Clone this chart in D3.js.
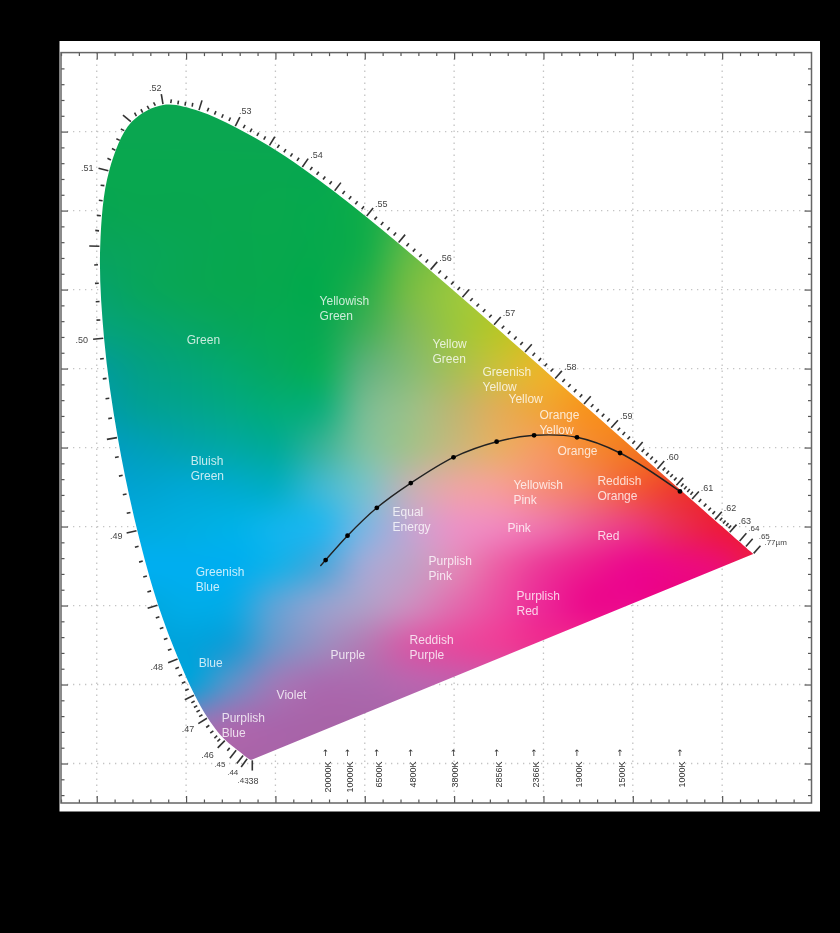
<!DOCTYPE html>
<html>
<head>
<meta charset="utf-8">
<script src="https://cdn.jsdelivr.net/npm/d3@7"></script>
<style>
    html, body { margin: 0; background: #000; }
    svg { display: block; filter: blur(0.7px); }
    text { font-family: "Liberation Sans", Arial, sans-serif; }
</style>
</head>
<body>
<div id="chart"></div>
<script>
// spectral locus, wavelength in nm and its chromaticity
const waves = [380, 385, 390, 395, 400, 405, 410, 415, 420, 425, 430, 435, 440, 445, 450, 455, 460, 465, 470, 475, 480, 485, 490, 495, 500, 505, 510, 515, 520, 525, 530, 535, 540, 545, 550, 555, 560, 565, 570, 575, 580, 585, 590, 595, 600, 605, 610, 615, 620, 625, 630, 635, 640, 645, 650, 655, 660, 665, 670, 770];
const locusX = [.1741, .1740, .1738, .1736, .1733, .1730, .1726, .1721, .1714, .1703, .1689, .1669, .1644, .1611, .1566, .1510, .1440, .1355, .1241, .1096, .0913, .0687, .0454, .0235, .0082, .0039, .0139, .0389, .0743, .1142, .1547, .1929, .2296, .2658, .3016, .3373, .3731, .4087, .4441, .4788, .5125, .5448, .5752, .6029, .6270, .6482, .6658, .6801, .6915, .7006, .7079, .7140, .7190, .7230, .7260, .7283, .7300, .7311, .7320, .7347];
const locusY = [.0050, .0050, .0049, .0049, .0048, .0048, .0048, .0048, .0051, .0058, .0069, .0086, .0109, .0138, .0177, .0227, .0297, .0399, .0578, .0868, .1327, .2007, .2950, .4127, .5384, .6548, .7502, .8120, .8338, .8262, .8059, .7816, .7543, .7243, .6923, .6589, .6245, .5896, .5547, .5202, .4866, .4544, .4242, .3965, .3725, .3514, .3340, .3197, .3083, .2993, .2920, .2859, .2809, .2770, .2740, .2717, .2700, .2689, .2680, .2653];

// wavelength ticks along the locus
const longTicks = [380, 430, 440, 450, 460, 470, 475, 480, 485, 490, 495, 500, 505, 510, 515, 520, 525, 530, 535, 540, 545, 550, 555, 560, 565, 570, 575, 580, 585, 590, 595, 600, 605, 610, 620, 630, 640, 650, 770];
const shortTicks = [455, 462, 464, 466, 468]
    .concat(d3.range(471, 610).filter(d => d % 5 !== 0))
    .concat([612, 614, 616, 618, 622, 624, 626, 628]);

const waveLabelAt = [380, 430, 440, 450, 460, 470, 480, 490, 500, 510, 520, 530, 540, 550, 560, 570, 580, 590, 600, 610, 620, 630, 640, 650, 770];
const waveLabels = [".38", ".43", ".44", ".45", ".46", ".47", ".48", ".49", ".50", ".51", ".52", ".53", ".54", ".55", ".56", ".57", ".58", ".59", ".60", ".61", ".62", ".63", ".64", ".65", ".77\u00b5m"];

// blackbody curve
const tempLabels = ["20000K", "10000K", "6500K", "4800K", "3800K", "2856K", "2366K", "1900K", "1500K", "1000K"];
const tempX = [.2562, .2807, .3135, .3515, .3993, .4476, .4895, .5375, .5857, .6528];
const tempY = [.2576, .2884, .3237, .3550, .3876, .4074, .4155, .4130, .3931, .3444];
const curveEndX = .2503, curveEndY = .2500;

// colour names, chromaticity of the first line
const names = ["Green", "Yellowish\nGreen", "Yellow\nGreen", "Greenish\nYellow", "Yellow", "Orange\nYellow", "Orange", "Bluish\nGreen", "Yellowish\nPink", "Reddish\nOrange", "Equal\nEnergy", "Pink", "Red", "Greenish\nBlue", "Purplish\nPink", "Purplish\nRed", "Reddish\nPurple", "Purple", "Blue", "Violet", "Purplish\nBlue"];
const nameX = [.1007, .2494, .3758, .4318, .4609, .4955, .5157, .1051, .4664, .5604, .3311, .4597, .5604, .1107, .3714, .4698, .3501, .2617, .1141, .2013, .1398];
const nameY = [.5366, .5859, .5316, .4962, .4621, .4419, .3965, .3826, .3523, .3573, .3182, .2980, .2879, .2424, .2563, .2121, .1566, .1376, .1275, .0871, .0581];

// colour field sampled every .05, top row first. A short row repeats its last colour
const colorRows = [
    ["#0aa650"],
    ["#0aa650"],
    ["#08a74f", "#08a74f", "#08a74f", "#08a74f", "#08a74f", "#08a74f", "#12ab4a"],
    ["#07a552", "#08a650", "#08a64f", "#08a74e", "#08a84d", "#06a94d", "#12ac49", "#40b048", "#60b848"],
    ["#08a35c", "#08a558", "#08a653", "#07a74f", "#07a84d", "#06a94c", "#16ad49", "#5fba46", "#80c040"],
    ["#06a26a", "#07a55d", "#08a655", "#07a750", "#06a84e", "#04aa4c", "#2aae4a", "#74bc45", "#98c73d", "#a8c838"],
    ["#05a27c", "#05a370", "#06a566", "#06a65c", "#05a955", "#0aa952", "#40af58", "#7cb95a", "#9cc53f", "#b8c628", "#cfc020"],
    ["#019c99", "#03a085", "#03a47a", "#03a86e", "#05a961", "#0cae5a", "#5cb27a", "#85bb72", "#a7bf55", "#ccbf3a", "#eab528", "#f0aa20"],
    ["#009cab", "#01a098", "#02a48f", "#02a884", "#02ac78", "#12af7a", "#73bb90", "#99bf86", "#bcb76f", "#e0ae55", "#f0a536", "#f7941d", "#f79018"],
    ["#009cc4", "#00a0b8", "#01a4ae", "#01a8a4", "#02ab98", "#35b39a", "#7cc0a0", "#a4c08d", "#c9b67e", "#e8ad66", "#f59a5c", "#f58a35", "#f37a20", "#f27020"],
    ["#00a0d8", "#00a4d0", "#00a8d2", "#00abcc", "#05aec4", "#3cb8d0", "#78c0c8", "#c0b2b4", "#e8a6a4", "#f49e96", "#f58d78", "#f37a5d", "#f25c3a", "#ee3d2b", "#ed2a28"],
    ["#00a8e8", "#00abe0", "#00aee2", "#00b1e6", "#10b4ea", "#27b6ec", "#7cb5e0", "#c0a6d0", "#e894c4", "#f087ba", "#ef72a8", "#ed5590", "#ec3a7c", "#ea2b55", "#ed1c3a", "#ed1c30"],
    ["#00aeef", "#00aeef", "#00aeef", "#00aeef", "#18b0e8", "#4aa8dc", "#9fa9d6", "#c0a0c8", "#e089b8", "#ec5fa6", "#ec3998", "#ec1e8e", "#ec0a8c", "#ec0a80", "#ec0f6e", "#ed1c40"],
    ["#00a8e0", "#00a8e0", "#00ace8", "#0aaae6", "#5ba4d8", "#8ea2d0", "#ae9ec8", "#cc8cbe", "#e16cae", "#ec4ba0", "#ec2896", "#ec0c8c", "#ec0a8c", "#ec0a80"],
    ["#00a0d8", "#00a0d8", "#00a3dc", "#1a9cd6", "#6e96ca", "#9a8dc0", "#b47ab4", "#d45da8", "#e44c9f", "#ec3f98", "#ec2f90"],
    ["#0aa0d8", "#0aa0d8", "#0aa0d8", "#5e90c8", "#9c7ab8", "#a96cb0", "#ac6aae", "#b865ae", "#c05fac", "#c85aa8"],
    ["#8f7ab8", "#8f7ab8", "#8f7ab8", "#a66cb0", "#a866ac", "#a864a8"],
    ["#a864a8"]
];
const colorStep = .05;

const svgWidth = 840, svgHeight = 933;
const x = d3.scaleLinear().domain([-.04, .8]).range([61, 811.5]);
const y = d3.scaleLinear().domain([-.05, .9]).range([803, 52.6]);

const svg = d3.select("#chart").append("svg")
    .attr("width", svgWidth)
    .attr("height", svgHeight);

// white card
svg.append("rect")
    .attr("x", 59.5).attr("y", 41)
    .attr("width", 760.5).attr("height", 770.5)
    .attr("fill", "#fff");

// grid
const majorX = d3.range(0, 8).map(d => d / 10);
const majorY = d3.range(0, 9).map(d => d / 10);
const grid = svg.append("g")
    .attr("stroke", "#c4c4c4")
    .attr("stroke-width", 1.3)
    .attr("stroke-dasharray", "1.3 4.7");
grid.selectAll(".gx").data(majorX).enter().append("line")
    .attr("x1", d => x(d)).attr("x2", d => x(d))
    .attr("y1", y.range()[1]).attr("y2", y.range()[0]);
grid.selectAll(".gy").data(majorY).enter().append("line")
    .attr("x1", x.range()[0]).attr("x2", x.range()[1])
    .attr("y1", d => y(d)).attr("y2", d => y(d));

// frame ticks, all pointing inwards
const minorX = d3.range(-2, 41).map(d => d / 50).filter(d => Math.round(d * 50) % 5 !== 0);
const minorY = d3.range(-2, 45).map(d => d / 50).filter(d => Math.round(d * 50) % 5 !== 0);

function drawAxis(axisFn, scale, transform, major, minor) {
    const g1 = svg.append("g").attr("transform", transform)
        .call(axisFn(scale).tickValues(major).tickSize(7).tickFormat(""));
    const g2 = svg.append("g").attr("transform", transform)
        .call(axisFn(scale).tickValues(minor).tickSize(3.5).tickFormat(""));
    [g1, g2].forEach(g => {
        g.selectAll("line").attr("stroke", "#555").attr("stroke-width", 1.2);
        g.select(".domain").remove();
    });
}
drawAxis(d3.axisTop, x, `translate(0,${y.range()[0]})`, majorX, minorX);
drawAxis(d3.axisBottom, x, `translate(0,${y.range()[1]})`, majorX, minorX);
drawAxis(d3.axisRight, y, `translate(${x.range()[0]},0)`, majorY, minorY);
drawAxis(d3.axisLeft, y, `translate(${x.range()[1]},0)`, majorY, minorY);

svg.append("rect")
    .attr("x", x.range()[0]).attr("y", y.range()[1])
    .attr("width", x.range()[1] - x.range()[0])
    .attr("height", y.range()[0] - y.range()[1])
    .attr("fill", "none")
    .attr("stroke", "#666")
    .attr("stroke-width", 1.5);

// colour field: bicubic through the sampled rows, painted to a canvas
const rgbRows = colorRows.map(r => r.map(c => {
    const o = d3.rgb(c);
    return [o.r, o.g, o.b];
}));
const nRows = rgbRows.length;

function cellAt(i, j) {
    const row = rgbRows[Math.max(0, Math.min(nRows - 1, j))];
    return row[Math.max(0, Math.min(row.length - 1, i))];
}
function cubic(a, b, c, d, t) {
    return b + .5 * t * (c - a + t * (2 * a - 5 * b + 4 * c - d + t * (3 * (b - c) + d - a)));
}

const imgX0 = Math.floor(x.range()[0]), imgY0 = Math.floor(y.range()[1]);
const imgW = Math.ceil(x.range()[1]) - imgX0, imgH = Math.ceil(y.range()[0]) - imgY0;
const canvas = document.createElement("canvas");
canvas.width = imgW;
canvas.height = imgH;
const ctx = canvas.getContext("2d");
const imgData = ctx.createImageData(imgW, imgH);

for (let py = 0; py < imgH; py++) {
    // row 0 of the table is y = .85
    const gy = (.85 - y.invert(py + imgY0 + .5)) / colorStep;
    const j = Math.floor(gy), tj = gy - j;
    for (let px = 0; px < imgW; px++) {
        const gx = x.invert(px + imgX0 + .5) / colorStep;
        const i = Math.floor(gx), ti = gx - i;
        const k = (py * imgW + px) * 4;
        for (let c = 0; c < 3; c++) {
            const col = [-1, 0, 1, 2].map(dj => cubic(
                cellAt(i - 1, j + dj)[c], cellAt(i, j + dj)[c],
                cellAt(i + 1, j + dj)[c], cellAt(i + 2, j + dj)[c], ti));
            imgData.data[k + c] = cubic(col[0], col[1], col[2], col[3], tj);
        }
        imgData.data[k + 3] = 255;
    }
}
ctx.putImageData(imgData, 0, 0);

const locus = waves.map((w, i) => [x(locusX[i]), y(locusY[i])]);
const locusPath = d3.line().curve(d3.curveCatmullRom)(locus) + "Z";

svg.append("clipPath").attr("id", "gamut").append("path").attr("d", locusPath);

svg.append("image")
    .attr("x", imgX0).attr("y", imgY0)
    .attr("width", imgW).attr("height", imgH)
    .attr("href", canvas.toDataURL())
    .attr("clip-path", "url(#gamut)");

// wavelength ticks
const waveX = d3.scaleLinear().domain(waves).range(locus.map(d => d[0]));
const waveY = d3.scaleLinear().domain(waves).range(locus.map(d => d[1]));

function outward(w) {
    const tx = waveX(w + .6) - waveX(w - .6), ty = waveY(w + .6) - waveY(w - .6);
    const len = Math.hypot(tx, ty);
    return [ty / len, -tx / len];
}
function alongNormal(w, dist) {
    const n = outward(w);
    return [waveX(w) + n[0] * dist, waveY(w) + n[1] * dist];
}

function drawWaveTicks(data, from, to) {
    svg.append("g").selectAll("line").data(data).enter().append("line")
        .attr("x1", d => alongNormal(d, from)[0])
        .attr("y1", d => alongNormal(d, from)[1])
        .attr("x2", d => alongNormal(d, to)[0])
        .attr("y2", d => alongNormal(d, to)[1])
        .attr("stroke", "#333")
        .attr("stroke-width", 1.6);
}
drawWaveTicks(longTicks, 0.8, 11);
drawWaveTicks(shortTicks, 3, 6.8);

// label placement relative to the end of the long tick
const waveDx = [0, 7.5, 1.5, -4.5, -4, -4, -5, -4, -5, -5, -6, -1, 2, 2, 2, 2, 2, 2, 2, 2, 2, 2, 2, 6, 4];
const waveDy = [10, 13, 8.5, 6, 7, 5, 4, 3, 1, 0, -6, -6, -4, -4, -4, -4, -4, -4, -4, -4, -4, -4, -5.5, -3, -3.7];
const waveAnchor = w => w === 380 || w === 520 ? "middle" : (w < 520 ? "end" : "start");
const crowded = [430, 440, 450, 640, 650, 770];

svg.append("g").selectAll("text").data(waveLabels).enter().append("text")
    .attr("x", (d, i) => alongNormal(waveLabelAt[i], 11)[0] + waveDx[i])
    .attr("y", (d, i) => alongNormal(waveLabelAt[i], 11)[1] + waveDy[i])
    .attr("dy", ".35em")
    .attr("text-anchor", (d, i) => waveAnchor(waveLabelAt[i]))
    .attr("font-size", (d, i) => crowded.includes(waveLabelAt[i]) ? 8 : 9)
    .attr("fill", "#444")
    .text(d => d);

// blackbody curve and its dots
const curvePts = [[curveEndX, curveEndY]].concat(tempX.map((d, i) => [d, tempY[i]]));
svg.append("path")
    .attr("d", d3.line().x(d => x(d[0])).y(d => y(d[1])).curve(d3.curveCatmullRom)(curvePts))
    .attr("fill", "none")
    .attr("stroke", "#222")
    .attr("stroke-width", 1.4);

svg.append("g").selectAll("circle").data(tempX).enter().append("circle")
    .attr("cx", d => x(d))
    .attr("cy", (d, i) => y(tempY[i]))
    .attr("r", 2.4)
    .attr("fill", "#000");

// temperature markers under the diagram
const tempG = svg.append("g").selectAll("g").data(tempLabels).enter().append("g")
    .attr("transform", (d, i) => `translate(${x(tempX[i])},0)`);
tempG.append("text")
    .attr("y", y(.009))
    .attr("text-anchor", "middle")
    .attr("font-size", 9)
    .attr("fill", "#333")
    .style("font-family", "'DejaVu Sans'")
    .text("\u2191");
tempG.append("text")
    .attr("transform", `translate(5,${y(0) - 2}) rotate(-90)`)
    .attr("text-anchor", "end")
    .attr("font-size", 9)
    .attr("fill", "#333")
    .text(d => d);

// colour names
const nameG = svg.append("g").selectAll("text").data(names).enter().append("text")
    .attr("font-size", 12)
    .attr("fill", "#fff")
    .attr("fill-opacity", .78)
    .attr("transform", (d, i) => `translate(${x(nameX[i])},${y(nameY[i])})`);
nameG.selectAll("tspan").data(d => d.split("\n")).enter().append("tspan")
    .attr("x", 0)
    .attr("y", (d, i) => i * 15)
    .attr("dy", ".35em")
    .text(d => d);
</script>
</body>
</html>
